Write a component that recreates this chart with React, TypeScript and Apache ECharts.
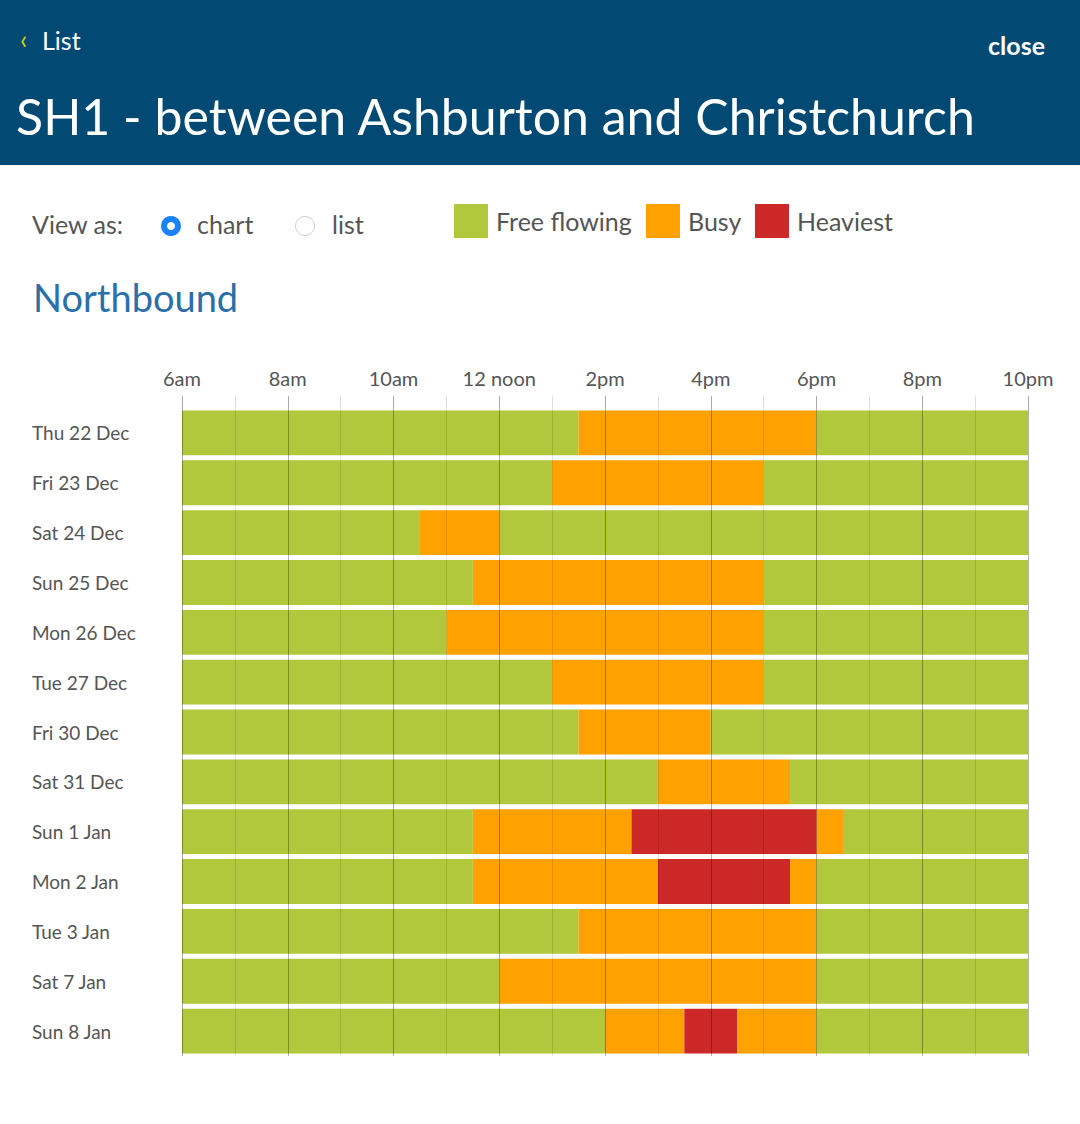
import React, { useEffect, useRef } from "react";
import * as echarts from "echarts";

const days = [
  "Thu 22 Dec", "Fri 23 Dec", "Sat 24 Dec", "Sun 25 Dec", "Mon 26 Dec", "Tue 27 Dec",
  "Fri 30 Dec", "Sat 31 Dec", "Sun 1 Jan", "Mon 2 Jan", "Tue 3 Jan", "Sat 7 Jan", "Sun 8 Jan",
];

// hour at which each period starts/ends (6 = 6am, 22 = 10pm)
const changeTimes = [
  [6, 13.5, 18, 22],
  [6, 13, 17, 22],
  [6, 10.5, 12, 22],
  [6, 11.5, 17, 22],
  [6, 11, 17, 22],
  [6, 13, 17, 22],
  [6, 13.5, 16, 22],
  [6, 15, 17.5, 22],
  [6, 11.5, 14.5, 18, 18.5, 22],
  [6, 11.5, 15, 17.5, 18, 22],
  [6, 13.5, 18, 22],
  [6, 12, 18, 22],
  [6, 14, 15.5, 16.5, 18, 22],
];

// 0 = free flowing, 1 = busy, 2 = heaviest
const levels = [
  [0, 1, 0],
  [0, 1, 0],
  [0, 1, 0],
  [0, 1, 0],
  [0, 1, 0],
  [0, 1, 0],
  [0, 1, 0],
  [0, 1, 0],
  [0, 1, 2, 1, 0],
  [0, 1, 2, 1, 0],
  [0, 1, 0],
  [0, 1, 0],
  [0, 1, 2, 1, 0],
];

const levelNames = ["Free flowing", "Busy", "Heaviest"];
const levelColors = ["#b1c83c", "#ffa100", "#cd2828"];

const hourTicks = [6, 8, 10, 12, 14, 16, 18, 20, 22];
const hourLabels = ["6am", "8am", "10am", "12 noon", "2pm", "4pm", "6pm", "8pm", "10pm"];

const FONT = "Lato";

export default function App() {
  const ref = useRef<HTMLDivElement>(null);
  useEffect(() => {
    document.body.style.margin = "0";
    const chart = echarts.init(ref.current!, null, { renderer: "svg" });

    const segs: number[][] = [];
    changeTimes.forEach((times, di) => {
      for (let j = 0; j < times.length - 1; j++) {
        segs.push([times[j], times[j + 1], di, levels[di][j]]);
      }
    });

    const txt = (text: string, x: number, y: number, size: number, fill: string, opts: any = {}) => ({
      type: "text",
      x,
      y,
      style: {
        text,
        fill,
        font: `${opts.weight || "normal"} ${size}px ${FONT}`,
        textAlign: opts.align || "left",
        textVerticalAlign: "middle",
      },
    });

    const legendX = [454, 646, 755];
    const legendTextX = [496, 688, 797];

    const graphics: any[] = [
      { type: "rect", shape: { x: 0, y: 0, width: 1080, height: 165 }, style: { fill: "#024a74" } },
      txt("‹", 20, 39, 26, "#c8d400"),
      txt("List", 42, 40, 25, "#ffffff"),
      txt("close", 1045, 45, 25, "#ffffff", { align: "right", weight: "bold" }),
      txt("SH1 - between Ashburton and Christchurch", 16, 116, 50, "#ffffff"),
      txt("View as:", 32, 224, 25, "#555555"),
      { type: "circle", shape: { cx: 171, cy: 226, r: 10 }, style: { fill: "#1a82fb" } },
      { type: "circle", shape: { cx: 171, cy: 226, r: 4 }, style: { fill: "#ffffff" } },
      txt("chart", 197, 224, 25, "#555555"),
      { type: "circle", shape: { cx: 305, cy: 226, r: 9.5 }, style: { fill: "#ffffff", stroke: "#cfcfcf", lineWidth: 1 } },
      txt("list", 332, 224, 25, "#555555"),
      txt("Northbound", 33, 297, 38, "#2a70a8"),
    ];
    levelNames.forEach((n, i) => {
      graphics.push({
        type: "rect",
        shape: { x: legendX[i], y: 204, width: 34, height: 34 },
        style: { fill: levelColors[i] },
      });
      graphics.push(txt(n, legendTextX[i], 221, 25, "#555555"));
    });

    chart.setOption({
      animation: false,
      graphic: graphics,
      grid: { left: 182, width: 846, top: 408, height: 648 },
      xAxis: {
        type: "value",
        position: "top",
        min: 6,
        max: 22,
        interval: 2,
        z: 10,
        axisLine: { show: false },
        axisTick: { show: true, length: 12, lineStyle: { color: "#aaaaaa" } },
        minorTick: { show: true, splitNumber: 2, length: 12, lineStyle: { color: "#dddddd" } },
        splitLine: { show: true, lineStyle: { color: "rgba(0,0,0,0.3)", width: 1 } },
        minorSplitLine: { show: true, lineStyle: { color: "rgba(0,0,0,0.11)", width: 1 } },
        axisLabel: {
          margin: 20,
          fontSize: 20,
          fontFamily: FONT,
          color: "#555555",
          formatter: (v: number) => {
            const i = hourTicks.indexOf(v);
            return i >= 0 ? hourLabels[i] : "";
          },
        },
      },
      yAxis: {
        type: "category",
        data: days,
        inverse: true,
        axisLine: { show: false },
        axisTick: { show: false },
        splitLine: { show: false },
        axisLabel: { align: "left", margin: 150, fontSize: 19, fontFamily: FONT, color: "#555555" },
      },
      series: [
        {
          type: "custom",
          data: segs,
          encode: { x: [0, 1], y: 2 },
          renderItem: (params: any, api: any) => {
            const s = api.coord([api.value(0), api.value(2)]);
            const e = api.coord([api.value(1), api.value(2)]);
            const band = api.size([0, 1])[1];
            const h = band * 0.9;
            return {
              type: "rect",
              shape: { x: s[0], y: s[1] - h / 2, width: e[0] - s[0], height: h },
              style: { fill: levelColors[api.value(3)] },
            };
          },
        },
      ],
    });
    return () => chart.dispose();
  }, []);
  return <div ref={ref} style={{ width: 1080, height: 1124 }} />;
}
